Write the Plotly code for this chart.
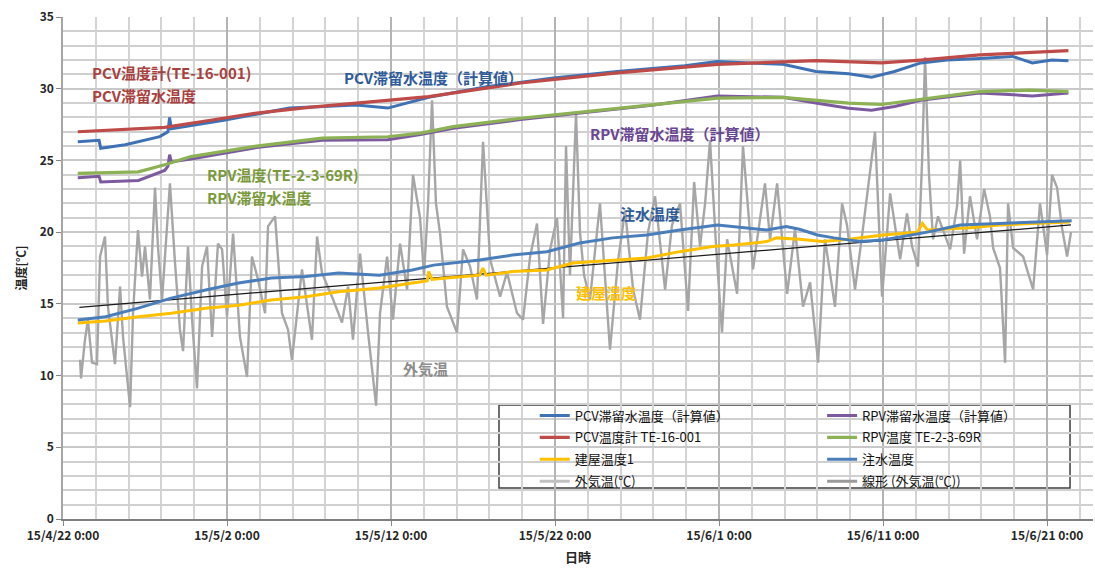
import pandas as pd
import plotly.graph_objects as go

START = pd.Timestamp("2015-04-22 00:00")

# ---- data (days since 2015-04-22 0:00, values in degC) ----
pcv_gauge_days = [0.9, 3.0, 6.2, 9.0, 11.8, 15.0, 19.8, 22.3, 27.9, 33.8, 39.9, 45.9, 49.9, 52.3, 55.9, 61.3]
pcv_gauge_vals = [27.0, 27.1, 27.3, 27.8, 28.3, 28.7, 29.2, 29.45, 30.4, 31.1, 31.7, 31.96, 31.8, 32.0, 32.36, 32.65]

pcv_calc_days = [0.9, 2.2, 2.3, 3.8, 5.9, 6.4, 6.5, 6.6, 9.8, 13.8, 17.9, 19.8, 22.3, 25.9, 29.9, 33.8, 37.9,
                 39.9, 41.9, 43.9, 45.9, 47.9, 49.3, 50.7, 52.3, 53.9, 55.9, 57.9, 59.1, 60.3, 61.3]
pcv_calc_vals = [26.3, 26.4, 25.85, 26.1, 26.66, 27.0, 28.0, 27.2, 27.8, 28.65, 28.87, 28.65, 29.4, 30.15, 30.75, 31.2, 31.6,
                 31.9, 31.8, 31.7, 31.2, 31.05, 30.8, 31.2, 31.8, 32.0, 32.1, 32.25, 31.8, 32.0, 31.95]

rpv_gauge_days = [0.9, 4.6, 6.2, 7.8, 11.8, 15.8, 19.8, 21.8, 23.8, 27.9, 31.9, 35.9, 39.9, 43.9, 45.9, 47.9, 49.9, 51.9, 55.9, 58.9, 61.3]
rpv_gauge_vals = [24.1, 24.2, 24.7, 25.27, 26.0, 26.55, 26.65, 26.9, 27.36, 27.94, 28.4, 28.87, 29.34, 29.4, 29.2, 29.0, 28.9, 29.2, 29.8, 29.9, 29.8]

rpv_calc_days = [0.9, 2.2, 2.3, 4.6, 6.2, 6.4, 6.5, 6.6, 7.8, 11.8, 15.8, 19.8, 21.8, 23.8, 27.9, 31.9, 35.9, 39.9,
                 43.9, 45.9, 47.9, 49.3, 50.7, 52.3, 55.9, 59.1, 61.3]
rpv_calc_vals = [23.8, 23.9, 23.5, 23.6, 24.3, 24.6, 25.4, 24.9, 25.1, 25.9, 26.4, 26.45, 26.8, 27.25, 27.85, 28.35, 28.85, 29.5,
                 29.4, 29.0, 28.64, 28.5, 28.76, 29.2, 29.7, 29.5, 29.7]

inject_days = [0.9, 2.6, 4.6, 6.6, 8.7, 10.7, 12.7, 14.8, 16.8, 19.3, 21.3, 22.6, 25.4, 27.4, 29.5, 31.5, 33.5, 35.6, 37.6,
               39.9, 42.9, 44.1, 44.9, 46.0, 47.0, 48.6, 50.0, 52.7, 54.7, 57.1, 59.1, 61.5]
inject_vals = [13.88, 14.1, 14.7, 15.4, 15.97, 16.45, 16.8, 16.9, 17.15, 17.0, 17.36, 17.7, 18.06, 18.4, 18.64, 19.24, 19.6, 19.8, 20.15,
               20.5, 20.15, 20.4, 20.2, 19.8, 19.6, 19.34, 19.45, 20.0, 20.5, 20.6, 20.65, 20.8]

bldg_days = [0.9, 2.6, 4.6, 6.6, 8.7, 10.7, 12.7, 14.8, 16.8, 19.3, 21.3, 22.2, 22.3, 22.5, 23.4, 25.4, 25.6, 25.8, 27.4, 29.5,
             31.1, 33.5, 35.6, 37.6, 39.6, 40.9, 42.9, 43.5, 44.9, 46.3, 47.9, 50.0, 52.1, 52.4, 52.7, 55.3, 57.1, 59.1, 61.4]
bldg_vals = [13.67, 13.8, 14.1, 14.35, 14.7, 14.9, 15.27, 15.5, 15.85, 16.1, 16.45, 16.6, 17.25, 16.7, 16.8, 17.0, 17.5, 17.0, 17.25, 17.36,
             17.85, 18.06, 18.2, 18.64, 19.0, 19.1, 19.34, 19.6, 19.5, 19.34, 19.5, 19.8, 20.0, 20.6, 20.15, 20.3, 20.5, 20.6, 20.7]

outside_days = [1.04, 1.10, 1.34, 1.52, 1.77, 2.07, 2.26, 2.56, 2.74, 3.17, 3.48, 3.66, 4.09, 4.27, 4.57, 4.82, 5.00, 5.30,
                5.61, 5.79, 6.04, 6.52, 6.83, 7.13, 7.32, 7.62, 7.87, 8.17, 8.48, 8.78, 9.09, 9.45, 9.70, 10.00, 10.37,
                10.79, 11.22, 11.52, 11.89, 12.32, 12.50, 12.93, 13.35, 13.72, 13.96, 14.57, 15.18, 15.49, 15.79, 16.40,
                17.01, 17.38, 17.68, 18.11, 18.60, 19.09, 19.33, 19.76, 20.12, 20.55, 20.98, 21.34, 21.77, 22.01, 22.26,
                22.50, 22.74, 22.99, 23.41, 24.02, 24.39, 24.82, 25.24, 25.61, 26.04, 26.65, 27.07, 27.68, 28.05, 28.48,
                28.90, 29.27, 29.70, 30.12, 30.49, 30.67, 30.91, 31.28, 31.52, 31.77, 32.13, 32.74, 33.35, 33.84, 34.27,
                34.76, 35.18, 35.67, 36.10, 36.71, 37.13, 37.62, 38.11, 38.48, 38.84, 39.15, 39.45, 39.82, 40.18, 40.49,
                41.10, 41.46, 42.07, 42.80, 43.11, 43.54, 44.15, 44.63, 45.12, 45.55, 46.04, 46.46, 47.07, 47.50, 47.80,
                48.29, 48.78, 49.51, 49.94, 50.43, 51.04, 51.46, 51.77, 52.13, 52.38, 52.56, 52.80, 53.05, 53.35, 54.09,
                54.51, 54.70, 54.94, 55.30, 55.73, 56.16, 56.52, 56.71, 57.13, 57.44, 57.62, 57.93, 58.54, 59.15, 59.57,
                60.00, 60.30, 60.61, 60.91, 61.22, 61.46]
outside_vals = [11.1, 9.8, 12.5, 13.9, 10.9, 10.8, 18.3, 19.7, 14.8, 10.8, 16.2, 12.7, 7.8, 14.35, 20.15, 16.9, 19.0, 15.3,
                23.1, 19.0, 15.3, 23.4, 17.85, 13.2, 11.7, 19.0, 13.9, 9.1, 17.6, 19.0, 12.7, 19.2, 18.8, 14.1, 19.9,
                12.7, 9.9, 18.3, 16.7, 14.35, 20.4, 21.1, 14.35, 13.2, 11.1, 17.4, 12.5, 19.7, 17.15, 15.5,
                13.7, 16.2, 12.5, 18.5, 13.0, 7.9, 14.35, 18.3, 13.9, 19.2, 16.0, 24.0, 21.0, 17.0, 22.0,
                29.2, 22.0, 19.9, 14.8, 13.0, 18.8, 17.6, 15.3, 26.3, 18.1, 15.5, 17.2, 14.35, 13.9, 18.3,
                20.6, 13.6, 18.8, 21.0, 14.0, 26.0, 17.0, 28.3, 20.0, 17.0, 15.3, 22.0, 11.8, 18.0, 21.5,
                16.0, 13.9, 20.0, 22.5, 16.0, 20.5, 22.0, 14.5, 23.5, 19.0, 22.0, 26.4, 19.0, 13.0, 19.5,
                15.7, 26.0, 17.4, 23.4, 19.5, 23.4, 15.7, 20.2, 14.8, 16.5, 10.9, 19.5, 14.8, 22.0, 20.5,
                16.0, 20.3, 27.0, 15.5, 22.7, 18.1, 21.3, 19.0, 17.6, 25.0, 32.2, 24.0, 19.5, 21.1, 18.8,
                21.8, 25.0, 18.5, 22.5, 19.5, 23.0, 21.1, 18.9, 17.5, 10.9, 22.0, 18.9, 18.3, 16.0, 22.0,
                18.4, 24.0, 23.1, 20.3, 18.3, 20.0]

trend_days = [1.0, 61.46]
trend_vals = [14.76, 20.5]

x_ticks_every_days = 10
y_range = [0, 35]

def to_dt(days):
    return [START + pd.Timedelta(days=d) for d in days]

FONT = "Noto Sans CJK JP"

fig = go.Figure()

def add_line(days, vals, name, color, width, legend, rank, show=True):
    fig.add_trace(go.Scatter(
        x=to_dt(days), y=vals, name=name, mode="lines",
        line=dict(color=color, width=width), legend=legend, legendrank=rank,
        legendgroup=name, showlegend=show))

def add_legend_sample(name, color, legend, rank):
    fig.add_trace(go.Scatter(x=[None], y=[None], mode="lines", name=name,
                             line=dict(color=color, width=3), legend=legend, legendrank=rank,
                             legendgroup=name + "_sample"))

add_line(outside_days, outside_vals, "外気温(℃)", "#A6A6A6", 2.4, "legend", 4, show=False)
add_line(trend_days, trend_vals, "線形 (外気温(℃))", "#1A1A1A", 1.2, "legend2", 4, show=False)
add_line(bldg_days, bldg_vals, "建屋温度1", "#FFC000", 3, "legend", 3)
add_line(inject_days, inject_vals, "注水温度", "#4A7EBB", 3, "legend2", 3)
add_line(rpv_calc_days, rpv_calc_vals, "RPV滞留水温度（計算値）", "#7D5AA0", 3, "legend2", 1)
add_line(rpv_gauge_days, rpv_gauge_vals, "RPV温度 TE-2-3-69R", "#8DB255", 3.2, "legend2", 2)
add_line(pcv_calc_days, pcv_calc_vals, "PCV滞留水温度（計算値）", "#3E72B5", 3, "legend", 1)
add_line(pcv_gauge_days, pcv_gauge_vals, "PCV温度計 TE-16-001", "#BE4B48", 3.2, "legend", 2)
add_legend_sample("外気温(℃)", "#C0C0C0", "legend", 4)
add_legend_sample("線形 (外気温(℃))", "#9A9A9A", "legend2", 4)

annotations = [
    ("PCV温度計(TE-16-001)", 1.65, 31.15, "#A9413E", "left"),
    ("PCV滞留水温度", 1.65, 29.5, "#A9413E", "left"),
    ("PCV滞留水温度（計算値）", 22.6, 30.75, "#2F5B9B", "center"),
    ("RPV滞留水温度（計算値）", 37.6, 26.85, "#6A4592", "center"),
    ("RPV温度(TE-2-3-69R)", 8.66, 24.0, "#7A9A3A", "left"),
    ("RPV滞留水温度", 8.66, 22.45, "#7A9A3A", "left"),
    ("注水温度", 35.8, 21.3, "#2F5B9B", "center"),
    ("建屋温度", 33.1, 15.8, "#FFC000", "center"),
    ("外気温", 22.1, 10.5, "#8C8C8C", "center"),
]
for text, d, v, c, align in annotations:
    fig.add_annotation(x=START + pd.Timedelta(days=d), y=v, text=text, showarrow=False,
                       xanchor=align, yanchor="middle",
                       font=dict(family=FONT, size=15, color=c, weight="bold"))

# legend frame (paper coordinates of plot area)
fig.add_shape(type="rect", xref="paper", yref="paper", x0=0.4233, x1=0.9777, y0=0.0618, y1=0.2271,
              fillcolor="white", line=dict(color="#3F3F3F", width=1.5), layer="below")

legend_font = dict(family=FONT, size=13, color="#111111")
x_end = START + pd.Timedelta(days=62.8)
fig.update_layout(
    width=1095, height=572,
    margin=dict(l=63, r=2, t=17, b=53),
    paper_bgcolor="white", plot_bgcolor="white",
    font=dict(family=FONT, color="#404040"),
    legend=dict(orientation="v", x=0.458, y=0.236, xanchor="left", yanchor="top",
                bgcolor="rgba(0,0,0,0)", borderwidth=0, font=legend_font,
                tracegroupgap=2, itemwidth=30),
    legend2=dict(orientation="v", x=0.737, y=0.236, xanchor="left", yanchor="top",
                 bgcolor="rgba(0,0,0,0)", borderwidth=0, font=legend_font,
                 tracegroupgap=2, itemwidth=30),
    xaxis=dict(
        type="date", range=[START, x_end], automargin=False,
        tick0=START, dtick=x_ticks_every_days * 86400000,
        tickformat="%y/%-m/%-d %-H:%M",
        ticks="outside", ticklen=5, tickcolor="#868686",
        showgrid=True, gridcolor="#B4B4B4", gridwidth=1.5,
        minor=dict(dtick=2 * 86400000, showgrid=True, gridcolor="#D4D4D4", gridwidth=1.5),
        showline=True, linecolor="#7F7F7F", linewidth=2,
        tickfont=dict(family=FONT, size=12, color="#262626", weight="bold"),
        title=dict(text="日時", font=dict(family=FONT, size=13, color="#262626", weight="bold"), standoff=10),
        zeroline=False,
    ),
    yaxis=dict(
        range=y_range, dtick=5, tick0=0, automargin=False,
        ticks="outside", ticklen=5, tickcolor="#868686",
        showgrid=True, gridcolor="#C8C8C8", gridwidth=1.5,
        minor=dict(dtick=1, showgrid=True, gridcolor="#D0D0D0", gridwidth=1.5),
        showline=True, linecolor="#A6A6A6", linewidth=1.5,
        tickfont=dict(family=FONT, size=12, color="#262626", weight="bold"),
        title=dict(text="温度[℃]", font=dict(family=FONT, size=12, color="#262626", weight="bold"), standoff=10),
        zeroline=False,
    ),
)

fig.write_html("out.html", config={"displayModeBar": False},
               post_script="document.body.style.margin='0px';document.body.style.overflow='hidden';")
